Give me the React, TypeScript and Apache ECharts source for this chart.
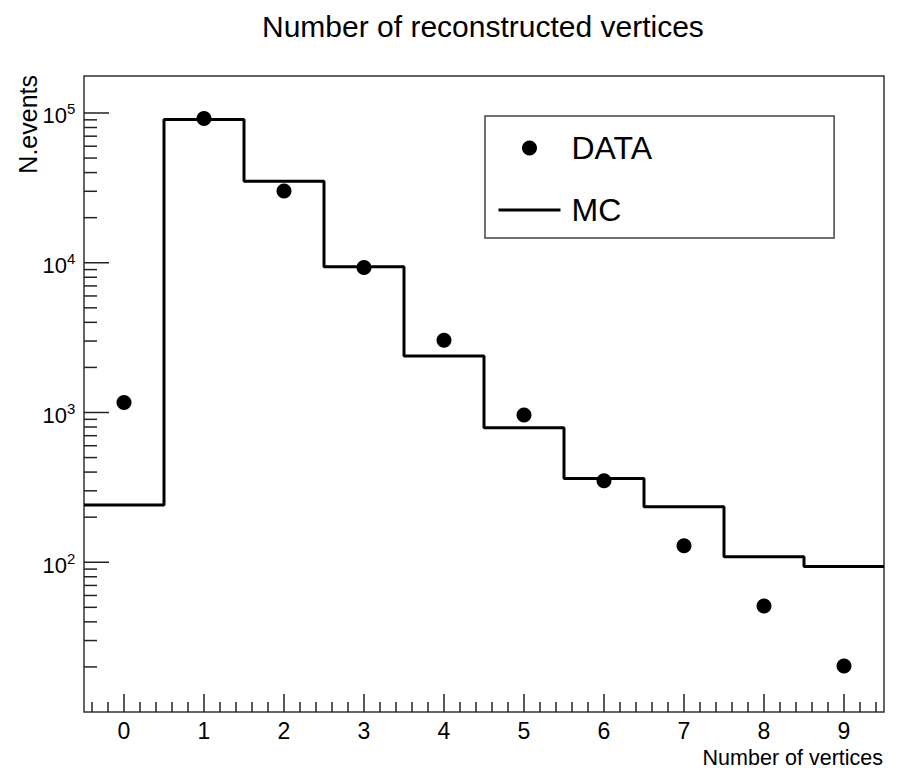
import React, { useEffect, useRef } from "react";
import * as echarts from "echarts";

const FONT = "'Liberation Sans', Arial, Helvetica, sans-serif";

// ---- data ----
const binCenters = [0, 1, 2, 3, 4, 5, 6, 7, 8, 9];
const dataCounts = [1166, 91750, 30100, 9300, 3040, 961, 350, 129, 51, 20.3];
const mcCounts = [241, 90400, 35000, 9390, 2380, 791, 363, 235, 109, 93.5];
const xTickLabels = ["0", "1", "2", "3", "4", "5", "6", "7", "8", "9"];
const yDecadeExponents = [2, 3, 4, 5];

const X_MIN = -0.5;
const X_MAX = 9.5;
const Y_MIN = 10;
const Y_MAX = 176600;

// axis tick positions (ROOT style)
const xMinorTicks: number[] = [];
for (let k = -2; k <= 47; k++) {
  if (k % 5 !== 0) xMinorTicks.push(Math.round(k * 2) / 10);
}
const yMajorTicks = yDecadeExponents.map((e) => Math.pow(10, e));
const yMinorTicks: number[] = [];
for (let e = 1; e <= 5; e++) {
  for (let m = 2; m <= 9; m++) {
    const v = m * Math.pow(10, e);
    if (v < Y_MAX) yMinorTicks.push(v);
  }
}

const TICK_COLOR = "#222";

function tickSeries(name: string, data: number[][], dx: number, dy: number) {
  return {
    type: "custom",
    name,
    silent: true,
    z: 5,
    encode: { x: 0, y: 1 },
    data,
    renderItem: (_params: any, api: any) => {
      const p = api.coord([api.value(0), api.value(1)]);
      return {
        type: "line",
        shape: { x1: p[0], y1: p[1], x2: p[0] + dx, y2: p[1] + dy },
        style: { stroke: TICK_COLOR, lineWidth: 1.5 },
      };
    },
  };
}

export default function App() {
  const ref = useRef<HTMLDivElement>(null);

  useEffect(() => {
    if (!ref.current) return;
    const chart = echarts.init(ref.current, null, { renderer: "svg" });

    const mcSteps = mcCounts.map((v, i) => [binCenters[i] - 0.5, v]);
    mcSteps.push([binCenters[binCenters.length - 1] + 0.5, mcCounts[mcCounts.length - 1]]);

    const option: any = {
      animation: false,
      backgroundColor: "#fff",
      title: {
        text: "Number of reconstructed vertices",
        left: 262,
        top: 11,
        padding: 0,
        textStyle: {
          fontSize: 30,
          lineHeight: 30,
          fontWeight: "normal",
          fontFamily: FONT,
          color: "#000",
        },
      },
      legend: {
        data: [
          { name: "DATA", icon: "circle" },
          { name: "MC", itemStyle: { color: "rgba(0,0,0,0)", opacity: 0, borderWidth: 0 } },
        ],
        orient: "vertical",
        left: 485,
        top: 116,
        padding: [16, 182, 12, 12],
        itemWidth: 62,
        itemHeight: 15,
        itemGap: 30,
        borderColor: "#444",
        borderWidth: 1.5,
        backgroundColor: "#fff",
        selectedMode: false,
        lineStyle: { width: 3, color: "#000" },
        textStyle: {
          fontSize: 32,
          lineHeight: 30,
          fontFamily: FONT,
          color: "#000",
          padding: [0, 0, 0, 6],
        },
      },
      graphic: [
        {
          type: "text",
          x: 28,
          y: 75,
          rotation: Math.PI / 2,
          style: {
            text: "N.events",
            fontSize: 25,
            fontFamily: FONT,
            fill: "#000",
            align: "right",
            verticalAlign: "middle",
          },
        },
      ],
      grid: {
        left: 84,
        right: 18,
        top: 76,
        bottom: 56,
        show: true,
        borderColor: "#333",
        borderWidth: 1.5,
        containLabel: false,
        outerBoundsMode: "none",
      },
      xAxis: {
        type: "value",
        min: X_MIN,
        max: X_MAX,
        name: "Number of vertices",
        nameLocation: "end",
        nameGap: -1,
        nameTextStyle: {
          fontSize: 21.5,
          lineHeight: 21,
          fontFamily: FONT,
          color: "#000",
          align: "right",
          verticalAlign: "top",
          padding: [35, 0, 0, 0],
        },
        axisLine: { show: false },
        axisTick: { show: false },
        axisLabel: { show: false },
        splitLine: { show: false },
      },
      yAxis: {
        type: "log",
        logBase: 10,
        min: Y_MIN,
        max: Y_MAX,
        axisLine: { show: false },
        axisTick: { show: false },
        axisLabel: { show: false },
        splitLine: { show: false },
      },
      series: [
        tickSeries("yMajor", yMajorTicks.map((v) => [X_MIN, v]), 25, 0),
        tickSeries("yMinor", yMinorTicks.map((v) => [X_MIN, v]), 13, 0),
        tickSeries("xMajor", binCenters.map((v) => [v, Y_MIN]), 0, -18),
        tickSeries("xMinor", xMinorTicks.map((v) => [v, Y_MIN]), 0, -10),
        {
          type: "custom",
          name: "xLabels",
          silent: true,
          z: 5,
          encode: { x: 0, y: 1 },
          data: binCenters.map((v) => [v, Y_MIN]),
          renderItem: (params: any, api: any) => {
            const p = api.coord([api.value(0), api.value(1)]);
            return {
              type: "text",
              x: p[0],
              y: p[1] + 19,
              style: {
                text: xTickLabels[params.dataIndex],
                fontSize: 23,
                fontFamily: FONT,
                fill: "#000",
                align: "center",
                verticalAlign: "middle",
              },
            };
          },
        },
        {
          type: "custom",
          name: "yLabels",
          silent: true,
          z: 5,
          encode: { x: 0, y: 1 },
          data: yMajorTicks.map((v) => [X_MIN, v]),
          renderItem: (params: any, api: any) => {
            const p = api.coord([api.value(0), api.value(1)]);
            return {
              type: "group",
              children: [
                {
                  type: "text",
                  x: p[0] - 17,
                  y: p[1] + 3,
                  style: {
                    text: "10",
                    fontSize: 22,
                    fontFamily: FONT,
                    fill: "#000",
                    align: "right",
                    verticalAlign: "middle",
                  },
                },
                {
                  type: "text",
                  x: p[0] - 17,
                  y: p[1] - 4,
                  style: {
                    text: String(yDecadeExponents[params.dataIndex]),
                    fontSize: 15,
                    fontFamily: FONT,
                    fill: "#000",
                    align: "left",
                    verticalAlign: "middle",
                  },
                },
              ],
            };
          },
        },
        {
          name: "MC",
          type: "line",
          step: "end",
          data: mcSteps,
          symbol: "none",
          showSymbol: false,
          lineStyle: { color: "#000", width: 3 },
          itemStyle: { color: "#000" },
          z: 6,
        },
        {
          name: "DATA",
          type: "scatter",
          data: binCenters.map((x, i) => [x, dataCounts[i]]),
          symbol: "circle",
          symbolSize: 15,
          itemStyle: { color: "#000", opacity: 1 },
          z: 7,
        },
      ],
    };

    chart.setOption(option);
    return () => chart.dispose();
  }, []);

  return (
    <div
      ref={ref}
      style={{ position: "fixed", left: 0, top: 0, width: 902, height: 768, background: "#fff" }}
    />
  );
}
